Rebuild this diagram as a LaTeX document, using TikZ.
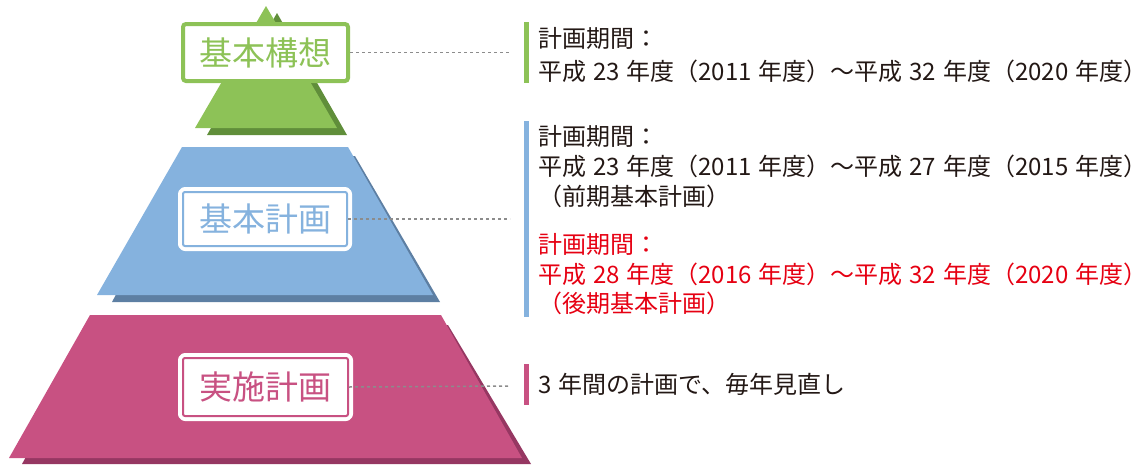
\documentclass[tikz,border=0pt]{standalone}
\usepackage{fontspec}
\setmainfont{Noto Sans CJK JP}[WordSpace=1.28]
\definecolor{gfill}{RGB}{141,194,87}
\definecolor{gshadow}{RGB}{96,142,58}
\definecolor{bfill}{RGB}{133,178,222}
\definecolor{bshadow}{RGB}{93,127,163}
\definecolor{mfill}{RGB}{200,81,130}
\definecolor{mshadow}{RGB}{150,55,98}
\definecolor{ink}{RGB}{35,24,21}
\definecolor{redtxt}{RGB}{230,0,18}
\definecolor{dashgray}{RGB}{140,140,140}
\newcommand{\tailparen}{\makebox[0.5em][l]{）}}
\begin{document}
\begin{tikzpicture}[x=1pt,y=-1pt,
  txt/.style={anchor=base west, inner sep=0pt, font=\fontsize{24}{24}\selectfont, text=ink},
  redline/.style={txt, text=redtxt},
  labelfont/.style={font=\fontsize{33}{33}\selectfont},
  gbox/.style={labelfont, draw=gfill, line width=4pt, fill=white, rounded corners=3pt,
    minimum width=165pt, minimum height=57pt, inner sep=0pt, text=gfill},
  framedbox/.style={labelfont, draw=#1, line width=2pt, fill=white, rounded corners=2pt,
    preaction={draw=white, line width=10pt, line join=round},
    inner sep=0pt, text=#1},
  dashline/.style={draw=dashgray, line width=1.5pt, dash pattern=on 3pt off 3pt},
  bar/.style={fill=#1}
]
\useasboundingbox (0,0) rectangle (1141,464);

% green triangle
\fill[gshadow] (277,13) -- (347,135) -- (207,135) -- cycle;
\fill[gfill] (266,6) -- (337,128) -- (195,128) -- cycle;
\node[gbox] (g) at (265.5,52.5) {基本構想};

% blue trapezoid
\fill[bshadow] (190,156) -- (355,156) -- (440,302) -- (112,302) -- cycle;
\fill[bfill] (182,147) -- (348,147) -- (433,295) -- (97,295) -- cycle;
\node[framedbox=bfill, minimum width=164pt, minimum height=54pt] (b) at (265,219) {基本計画};

% magenta trapezoid
\fill[mshadow] (100,325) -- (448,325) -- (531,464) -- (22,464) -- cycle;
\fill[mfill] (90,315) -- (441,315) -- (522,458) -- (9,458) -- cycle;
\node[framedbox=mfill, minimum width=165pt, minimum height=58pt] (m) at (265.5,387) {実施計画};

% dashed leaders
\coordinate (gend) at (510,52.5);
\coordinate (bend) at (510,219);
\coordinate (mend) at (509,386);
\draw[dashline] (g.east) -- (gend);
\draw[dashline] (b.east) -- (bend);
\draw[dashline] (m.east) -- (mend);

% bars
\fill[bar=gfill] (524,22) rectangle (529,83);
\fill[bar=bfill] (524,121) rectangle (529,317);
\fill[bar=mfill] (524,364) rectangle (529,405);

% texts
\node[txt] (t1) at (538,47) {計画期間：};
\node[txt] (t2) at (538,80) {平成 23 年度（2011 年度）～平成 32 年度（2020 年度\tailparen};

\node[txt] (t3) at (538,145) {計画期間：};
\node[txt] (t4) at (538,175) {平成 23 年度（2011 年度）～平成 27 年度（2015 年度\tailparen};
\node[txt] (t5) at (538,205) {（前期基本計画）};

\node[redline] (t6) at (538,253) {計画期間：};
\node[redline] (t7) at (538,283) {平成 28 年度（2016 年度）～平成 32 年度（2020 年度\tailparen};
\node[redline] (t8) at (538,312) {（後期基本計画）};

\node[txt] (t9) at (538,393) {3 年間の計画で、毎年見直し};
\end{tikzpicture}
\end{document}
